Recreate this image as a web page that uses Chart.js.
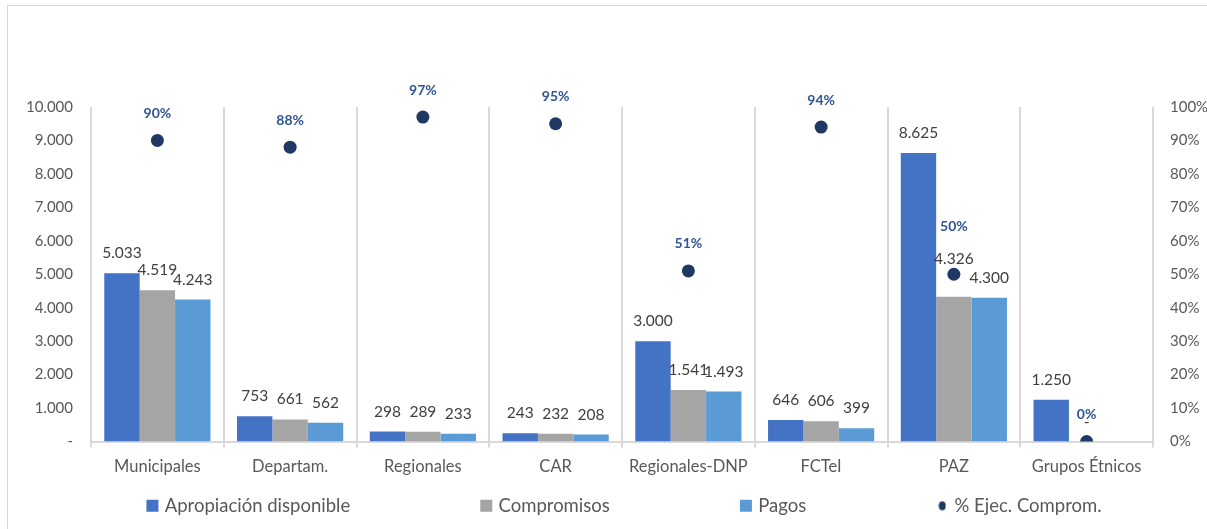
<!DOCTYPE html>
<html>
<head>
<meta charset="utf-8">
<script src="https://cdn.jsdelivr.net/npm/chart.js@4.4.1/dist/chart.umd.min.js"></script>
<style>
  html, body { margin: 0; padding: 0; background: #fff; overflow: hidden; }
  #frame { position: absolute; left: 7px; top: 5px; width: 1300px; height: 600px; border: 1px solid #d9d9d9; }
  #wrap { position: absolute; left: 0; top: 0; width: 1207px; height: 529px; }
</style>
</head>
<body>
<div id="frame"></div>
<div id="wrap"><canvas id="myChart"></canvas></div>
<script>
const categories = ['Municipales', 'Departam.', 'Regionales', 'CAR', 'Regionales-DNP', 'FCTeI', 'PAZ', 'Grupos Étnicos'];
const apropiacion = [5033, 753, 298, 243, 3000, 646, 8625, 1250];
const compromisos = [4519, 661, 289, 232, 1541, 606, 4326, 0];
const pagos = [4243, 562, 233, 208, 1493, 399, 4300, null];
const ejecucion = [0.90, 0.88, 0.97, 0.95, 0.51, 0.94, 0.50, 0];

const seriesNames = ['Apropiación disponible', 'Compromisos', 'Pagos', '% Ejec. Comprom.'];

// label lifts (px above the mark), a few moved like in the original
const valueLift = 20;
const valueLiftExtra = { '1-6': 38 };
const pctLift = 27;
const pctLiftExtra = { 6: 48 };

function fmt(v) {
    if (v === 0) return '-';
    return String(v).replace(/\B(?=(\d{3})+(?!\d))/g, '.');
}

const labelPlugin = {
    id: 'valueLabels',
    afterDatasetsDraw(chart) {
        const ctx = chart.ctx;
        ctx.save();
        ctx.textAlign = 'center';
        ctx.textBaseline = 'middle';
        chart.data.datasets.forEach((ds, i) => {
            const meta = chart.getDatasetMeta(i);
            meta.data.forEach((el, j) => {
                const v = ds.data[j];
                if (v === null || v === undefined) return;
                if (ds.type === 'line') {
                    ctx.font = 'bold 14px Lato';
                    ctx.fillStyle = '#2F5597';
                    ctx.fillText(Math.round(v * 100) + '%', el.x, el.y - (pctLiftExtra[j] || pctLift));
                } else {
                    ctx.font = '15.5px Lato';
                    ctx.fillStyle = '#404040';
                    ctx.fillText(fmt(v), el.x, el.y - (valueLiftExtra[i + '-' + j] || valueLift));
                }
            });
        });
        ctx.restore();
    }
};

// shift the legend row a little to the right, as in the original
const legendShift = {
    id: 'legendShift',
    afterLayout(chart) {
        if (chart.legend) {
            chart.legend.left += 22;
            chart.legend.right += 22;
        }
    }
};

// small ellipse marker for the legend
const dot = document.createElement('canvas');
dot.width = 8; dot.height = 10;
(function () {
    const c = dot.getContext('2d');
    c.fillStyle = '#203864';
    c.beginPath();
    c.ellipse(4, 5, 3.5, 4.5, 0, 0, Math.PI * 2);
    c.fill();
})();

const legendFont = 18.5;
const measure = document.createElement('canvas').getContext('2d');
measure.font = legendFont + 'px Lato';
const spaceW = measure.measureText(' ').width;
const gapSpaces = ' '.repeat(Math.round(122 / spaceW));

const data = {
    labels: categories,
    datasets: [
        { label: seriesNames[0], data: apropiacion, backgroundColor: '#4472C4', yAxisID: 'y' },
        { label: seriesNames[1], data: compromisos, backgroundColor: '#A5A5A5', yAxisID: 'y' },
        { label: seriesNames[2], data: pagos, backgroundColor: '#5B9BD5', yAxisID: 'y' },
        {
            type: 'line', label: seriesNames[3], data: ejecucion, yAxisID: 'y1',
            showLine: false, pointRadius: 6.5, pointHoverRadius: 6.5,
            backgroundColor: '#203864', borderColor: '#203864', pointBorderWidth: 0
        }
    ]
};

const config = {
    type: 'bar',
    data: data,
    options: {
        responsive: true,
        maintainAspectRatio: false,
        animation: false,
        categoryPercentage: 0.8,
        barPercentage: 1,
        layout: { padding: { top: 107, left: 0, right: 0, bottom: 4 } },
        plugins: {
            tooltip: { enabled: false },
            legend: {
                position: 'bottom',
                labels: {
                    usePointStyle: true,
                    boxWidth: 6,
                    boxHeight: 12,
                    padding: 10,
                    color: '#595959',
                    font: { family: 'Lato', size: legendFont },
                    generateLabels: function (chart) {
                        const items = Chart.defaults.plugins.legend.labels.generateLabels(chart);
                        items.forEach((it, k) => {
                            if (k < 3) {
                                it.pointStyle = 'rect';
                                it.text = it.text + gapSpaces;
                            } else {
                                it.pointStyle = dot;
                            }
                            it.lineWidth = 0;
                            it.strokeStyle = 'rgba(0,0,0,0)';
                        });
                        return items;
                    }
                }
            }
        },
        scales: {
            x: {
                grid: { offset: true, color: '#D9D9D9', lineWidth: 2, tickLength: 6 },
                border: { color: '#D9D9D9', width: 2 },
                ticks: { color: '#595959', font: { family: 'Lato', size: 16.5 }, padding: 9 },
                afterFit: function (scale) { scale.height = 45; }
            },
            y: {
                position: 'left',
                min: 0,
                max: 10000,
                grid: { display: false },
                border: { display: false },
                ticks: {
                    stepSize: 1000,
                    padding: 10,
                    color: '#595959',
                    font: { family: 'Lato', size: 15 },
                    callback: function (value) { return fmt(value); }
                },
                afterFit: function (scale) { scale.width = 91; }
            },
            y1: {
                position: 'right',
                min: 0,
                max: 1,
                grid: { display: false },
                border: { display: false },
                ticks: {
                    stepSize: 0.1,
                    padding: 9,
                    color: '#595959',
                    font: { family: 'Lato', size: 15 },
                    callback: function (value) { return Math.round(value * 100) + '%'; }
                },
                afterFit: function (scale) { scale.width = 54; }
            }
        }
    },
    plugins: [labelPlugin, legendShift]
};

let myChart = new Chart(document.getElementById('myChart'), config);
</script>
</body>
</html>
